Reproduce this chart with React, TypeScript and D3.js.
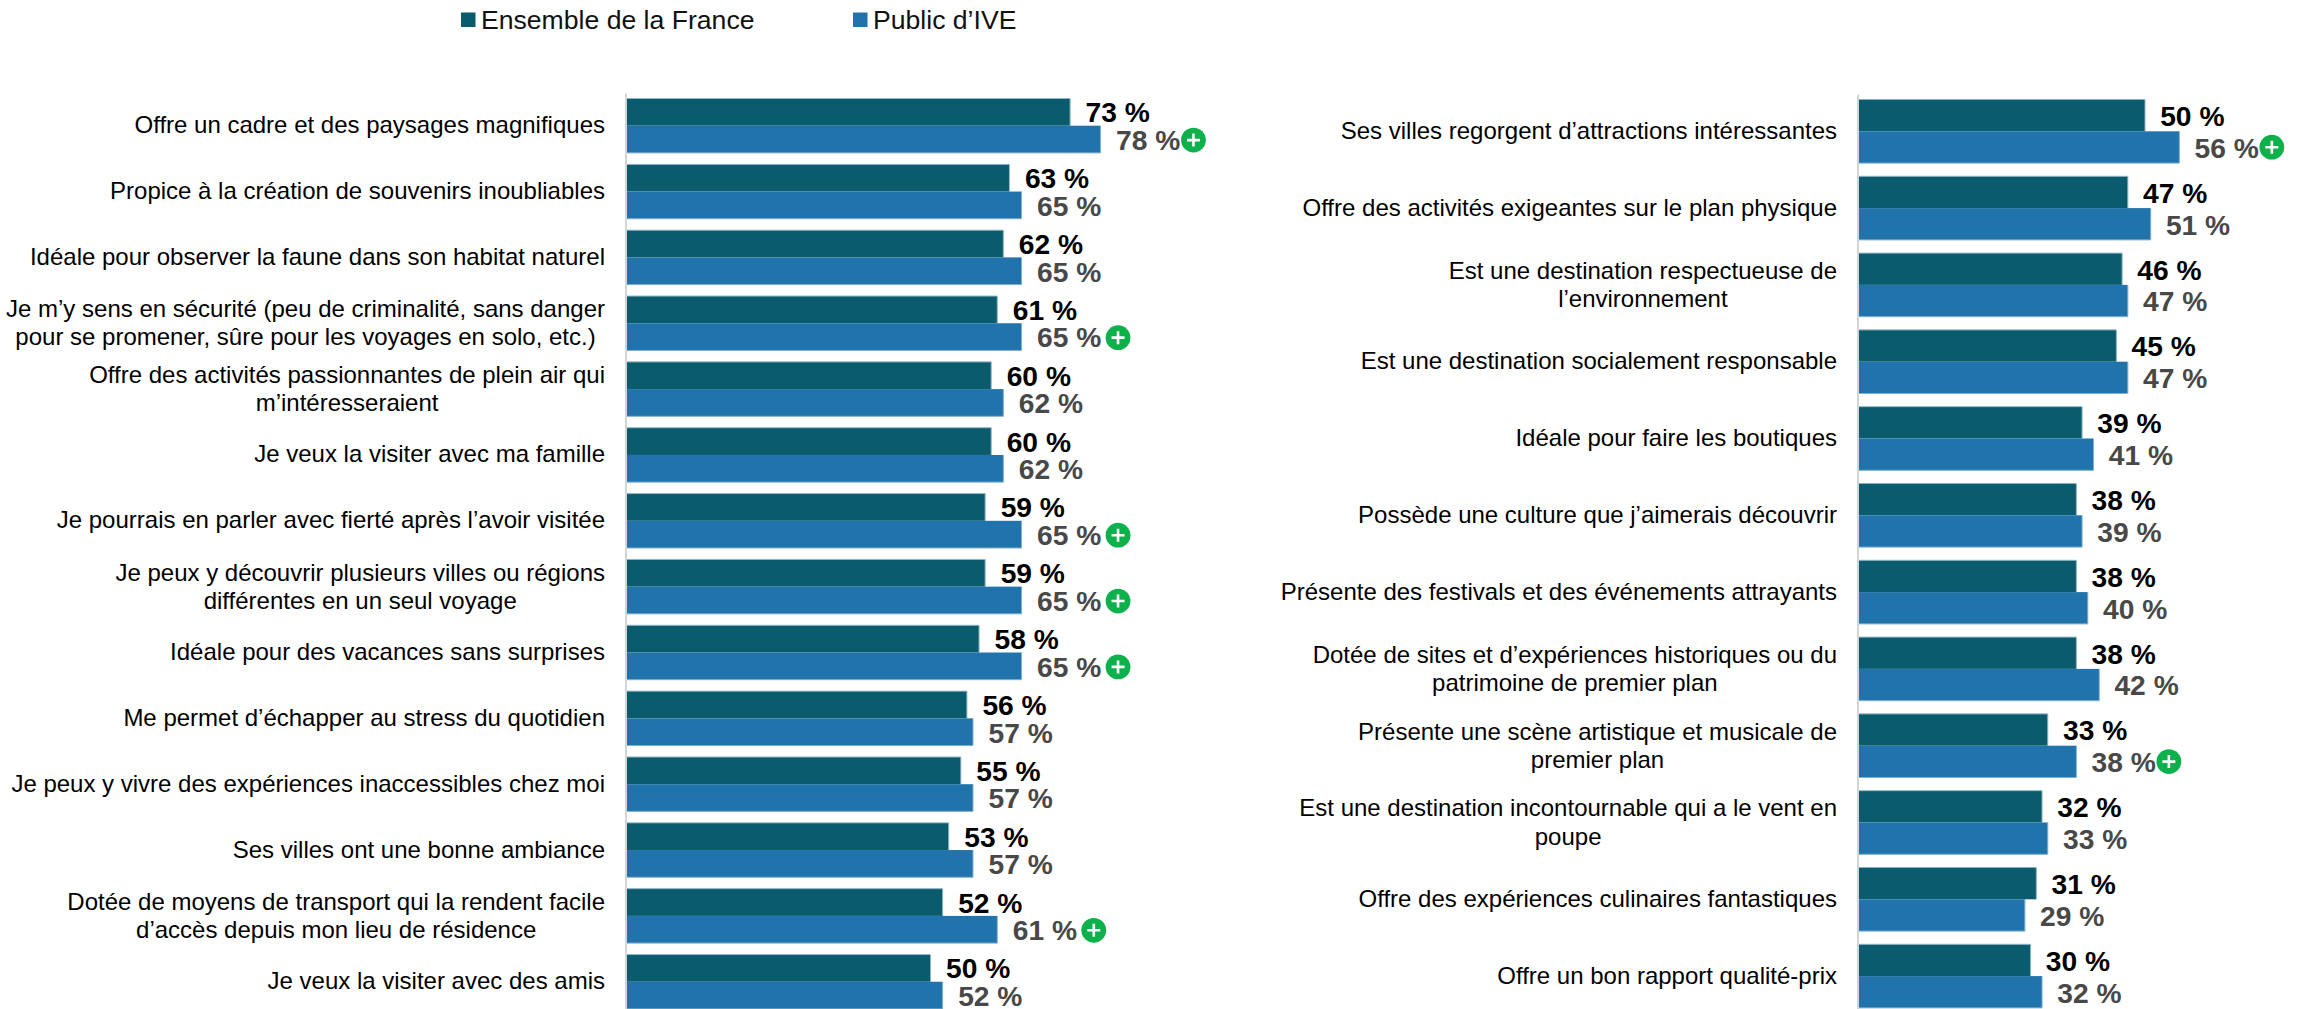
import React from "react";
import * as d3 from "d3";

const leftCategories = [
  ["Offre un cadre et des paysages magnifiques"],
  ["Propice à la création de souvenirs inoubliables"],
  ["Idéale pour observer la faune dans son habitat naturel"],
  ["Je m’y sens en sécurité (peu de criminalité, sans danger", "pour se promener, sûre pour les voyages en solo, etc.)"],
  ["Offre des activités passionnantes de plein air qui", "m’intéresseraient"],
  ["Je veux la visiter avec ma famille"],
  ["Je pourrais en parler avec fierté après l’avoir visitée"],
  ["Je peux y découvrir plusieurs villes ou régions", "différentes en un seul voyage"],
  ["Idéale pour des vacances sans surprises"],
  ["Me permet d’échapper au stress du quotidien"],
  ["Je peux y vivre des expériences inaccessibles chez moi"],
  ["Ses villes ont une bonne ambiance"],
  ["Dotée de moyens de transport qui la rendent facile", "d’accès depuis mon lieu de résidence"],
  ["Je veux la visiter avec des amis"],
];
const leftFrance = [73, 63, 62, 61, 60, 60, 59, 59, 58, 56, 55, 53, 52, 50];
const leftIve = [78, 65, 65, 65, 62, 62, 65, 65, 65, 57, 57, 57, 61, 52];
const leftPlus = [0, 3, 6, 7, 8, 12];

const rightCategories = [
  ["Ses villes regorgent d’attractions intéressantes"],
  ["Offre des activités exigeantes sur le plan physique"],
  ["Est une destination respectueuse de", "l’environnement"],
  ["Est une destination socialement responsable"],
  ["Idéale pour faire les boutiques"],
  ["Possède une culture que j’aimerais découvrir"],
  ["Présente des festivals et des événements attrayants"],
  ["Dotée de sites et d’expériences historiques ou du", "patrimoine de premier plan"],
  ["Présente une scène artistique et musicale de", "premier plan"],
  ["Est une destination incontournable qui a le vent en", "poupe"],
  ["Offre des expériences culinaires fantastiques"],
  ["Offre un bon rapport qualité-prix"],
];
const rightFrance = [50, 47, 46, 45, 39, 38, 38, 38, 33, 32, 31, 30];
const rightIve = [56, 51, 47, 47, 41, 39, 40, 42, 38, 33, 29, 32];
const rightPlus = [0, 8];

const legendItems = ["Ensemble de la France", "Public d’IVE"];
const DARK = "#0a5b6b";
const BLUE = "#2073ab";
const FONT = "'Liberation Sans', Arial, sans-serif";
const LABEL_SIZE = 24;

let ctx: CanvasRenderingContext2D | null = null;
function measure(t: string) {
  if (!ctx) {
    ctx = document.createElement("canvas").getContext("2d")!;
    ctx.font = `${LABEL_SIZE}px 'Liberation Sans', Arial, sans-serif`;
  }
  return ctx.measureText(t).width;
}

function Panel({ cats, fr, ive, plus, x0, unit, top, pitch, barH, labelX, plusGap, lineGap, frDy, iveDy, plusDy, oneDy, twoDy, valDx }: any) {
  const x = d3.scaleLinear().domain([0, 100]).range([x0, x0 + unit * 100]);
  const band = d3.scaleBand<number>().domain(d3.range(cats.length)).range([top, top + pitch * cats.length]).paddingInner(0).paddingOuter(0);
  return (
    <g>
      <line x1={x0 - 1} x2={x0 - 1} y1={top - 5} y2={1009} stroke="#d4d4d4" strokeWidth={2} />
      {cats.map((lines: string[], i: number) => {
        const y = band(i)!;
        const mid = y + barH;
        const blockW = Math.max(...lines.map(measure));
        const cx = labelX - blockW / 2;
        const textDy = lines.length > 1 ? twoDy : oneDy;
        return (
          <g key={i}>
            <rect x={x0} y={y} width={x(fr[i]) - x0} height={barH} fill={DARK} />
            <path d={`M${x0} ${y}H${x(fr[i])}V${mid}`} fill="none" stroke="#8fb4c8" strokeWidth={1} />
            <rect x={x0} y={mid} width={x(ive[i]) - x0} height={barH} fill={BLUE} />
            <path d={`M${x0} ${mid + barH}H${x(ive[i])}V${mid}`} fill="none" stroke="#7fb0d0" strokeWidth={1} />
            <text x={x(fr[i]) + valDx} y={mid + frDy} fontFamily={FONT} fontWeight="bold" fontSize={28.2} fill="#000">{fr[i]} %</text>
            <text x={x(ive[i]) + valDx} y={mid + barH + iveDy} fontFamily={FONT} fontWeight="bold" fontSize={28.2} fill="#484848">{ive[i]} %</text>
            {plus.includes(i) && (
              <g transform={`translate(${x(ive[i]) + plusGap(i)},${mid + barH / 2 + plusDy})`}>
                <circle r={12.4} fill="#0db14b" />
                <path d="M-6.5 0H6.5M0 -6.5V6.5" stroke="#fff" strokeWidth={2.6} />
              </g>
            )}
            {lines.map((t, k) => (
              <text key={k} x={cx} y={mid + textDy + (k - (lines.length - 1) / 2) * lineGap} textAnchor="middle" fontFamily={FONT} fontSize={LABEL_SIZE} fill="#000">
                {t}
              </text>
            ))}
          </g>
        );
      })}
    </g>
  );
}

export default function App() {
  return (
    <svg width={2300} height={1009} style={{ position: "absolute", left: 0, top: 0, background: "#fff" }}>
      <rect x={461} y={12.5} width={14.5} height={14.5} fill={DARK} />
      <text x={481} y={29} fontFamily={FONT} fontSize={26.6} fill="#111">{legendItems[0]}</text>
      <rect x={853} y={12.5} width={14.5} height={14.5} fill={BLUE} />
      <text x={873} y={29} fontFamily={FONT} fontSize={26.6} fill="#111">{legendItems[1]}</text>
      <Panel cats={leftCategories} fr={leftFrance} ive={leftIve} plus={leftPlus} x0={627} unit={6.07} top={98.5} pitch={65.85} barH={27.2} labelX={605} lineGap={27.7} frDy={-3.4} iveDy={-3} plusDy={0.8} oneDy={7.5} twoDy={8} valDx={15.5} plusGap={(i: number) => (i === 0 ? 93 : 96.5)} />
      <Panel cats={rightCategories} fr={rightFrance} ive={rightIve} plus={rightPlus} x0={1859} unit={5.72} top={99.5} pitch={76.8} barH={31.8} labelX={1837} lineGap={28.3} frDy={-5.3} iveDy={-5.4} plusDy={0} oneDy={7.5} twoDy={8} valDx={15.2} plusGap={() => 92.5} />
    </svg>
  );
}
